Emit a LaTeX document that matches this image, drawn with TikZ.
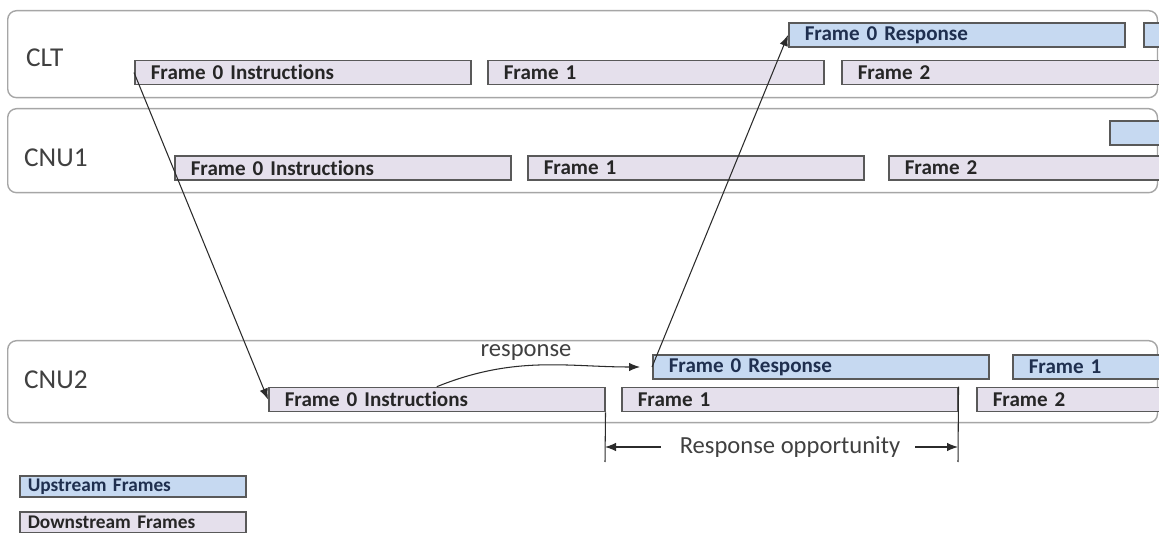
\documentclass[tikz,border=0pt]{standalone}
\usepackage{fontspec}
\setmainfont{Carlito}[Ligatures=NoCommon]
\usepackage{tikz}
\usetikzlibrary{arrows.meta,calc,positioning}
\definecolor{RowLine}{HTML}{A6A6A6}
\definecolor{RowText}{HTML}{404040}
\definecolor{FrameLine}{HTML}{595959}
\definecolor{DownFill}{HTML}{E5E0EC}
\definecolor{UpFill}{HTML}{C6D9F1}
\definecolor{DownText}{HTML}{262626}
\definecolor{UpText}{HTML}{1F2F4F}
\definecolor{ArrowLine}{HTML}{2B2B2B}

\begin{document}
\begin{tikzpicture}[
  x=0.02cm,y=-0.02cm,>=Latex,
  flow/.style={-{Latex[length=2.2mm,width=1.7mm]},draw=ArrowLine,line width=0.6pt},
  guide/.style={draw=ArrowLine,line width=0.6pt},
  row/.style={draw=RowLine,fill=white,rounded corners=5pt,line width=0.8pt,
    minimum width=23cm,anchor=north west,inner sep=0pt},
  rowlabel/.style={anchor=west,text=RowText,font=\fontsize{15.5}{18}\selectfont},
  down/.style={draw=FrameLine,fill=DownFill,line width=0.9pt,anchor=west,
    minimum height=0.48cm,inner ysep=0pt,inner xsep=0.32cm,text width=6.08cm,
    align=left,text=DownText,font=\bfseries\fontsize{12}{14}\selectfont},
  up/.style={down,fill=UpFill,text=UpText},
  key/.style={down,text width=4.2cm,inner xsep=0.16cm,minimum height=0.42cm,
    font=\bfseries\fontsize{11}{13}\selectfont},
  note/.style={text=RowText,font=\fontsize{14}{16}\selectfont,inner sep=2pt}
]
\useasboundingbox (0,0) rectangle (1159,533);
\clip (0,0) rectangle (1159,533);

% rows
\node[row,minimum height=1.74cm] (clt) at (7,10) {};
\node[row,minimum height=1.68cm] (cnua) at (7,108) {};
\node[row,minimum height=1.64cm] (cnub) at (7,340) {};

\node[rowlabel] (cltname) at (20,58) {CLT};
\node[rowlabel] (cnuaname) at (18,158) {CNU1};
\node[rowlabel] (cnubname) at (18,380) {CNU2};

% CLT frames
\node[down] (clt0) at (134,72.5) {Frame 0 Instructions};
\node[down] (clt1) at (487,72.5) {Frame 1};
\node[down] (clt2) at (841,72.5) {Frame 2};
\node[up] (cltr0) at (788,35) {Frame 0 Response};
\node[up] (cltr1) at (1143,35) {};

% CNU1 frames
\node[down] (cnua0) at (174,168) {Frame 0 Instructions};
\node[down] (cnua1) at (527,168) {Frame 1};
\node[down] (cnua2) at (888,168) {Frame 2};
\node[up] (cnuar0) at (1109,133) {};

% CNU2 frames
\node[down] (cnub0) at (268,399.5) {Frame 0 Instructions};
\node[down] (cnub1) at (621,399.5) {Frame 1};
\node[down] (cnub2) at (976,399.5) {Frame 2};
\node[up] (cnubr0) at (652,367) {Frame 0 Response};
\node[up] (cnubr1) at (1012,367) {Frame 1};

% legend
\node[key,fill=UpFill,text=UpText] (upkey) at (19,486.5) {Upstream Frames};
\node[key] (downkey) at (19,522.5) {Downstream Frames};

% arrows
\draw[flow] (clt0.west) -- (cnub0.west);
\draw[flow] (cnubr0.west) -- (cltr0.west);
\draw[flow,shorten >=0.24cm] (cnub0.north) to[out=22,in=180]
  node[note,above=1pt,pos=0.42] {response} (cnubr0.west);

% response window
\coordinate (oppleft) at (605,462);
\coordinate (oppright) at (958,462);
\draw[guide] (cnub0.south east) -- (oppleft);
\draw[guide] (cnub1.north east) -- (oppright);
\node[note] (opp) at (790,447) {Response opportunity};
\draw[flow,shorten <=0.3cm] (opp.west) -- (oppleft |- opp);
\draw[flow,shorten <=0.22cm] (opp.east) -- (oppright |- opp);

\end{tikzpicture}
\end{document}
